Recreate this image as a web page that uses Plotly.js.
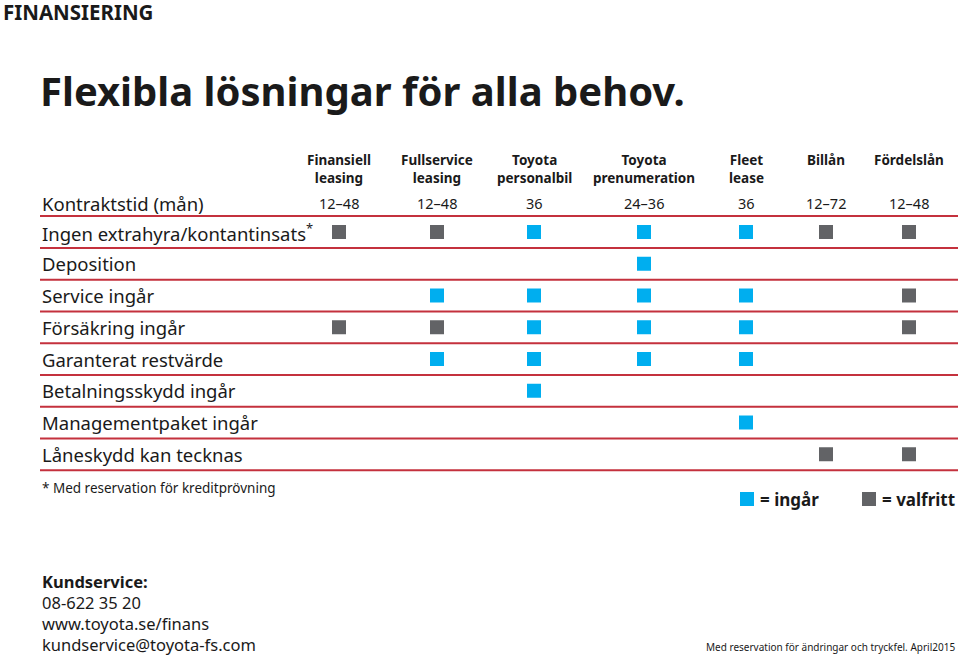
<!DOCTYPE html>
<html>
<head>
<meta charset="utf-8">
<script src="https://cdn.plot.ly/plotly-3.0.1.min.js"></script>
<style>
html,body{margin:0;padding:0;background:#fff;}
#chart{width:960px;height:656px;}
</style>
</head>
<body>
<div id="chart"></div>
<script>
// ---- data ----
const columns = ["Finansiell<br>leasing", "Fullservice<br>leasing", "Toyota<br>personalbil", "Toyota<br>prenumeration", "Fleet<br>lease", "Billån", "Fördelslån"];
const contractLabel = "Kontraktstid (mån)";
const contractValues = ["12–48", "12–48", "36", "24–36", "36", "12–72", "12–48"];
const features = [
  "Ingen extrahyra/kontantinsats<sup>*</sup>",
  "Deposition",
  "Service ingår",
  "Försäkring ingår",
  "Garanterat restvärde",
  "Betalningsskydd ingår",
  "Managementpaket ingår",
  "Låneskydd kan tecknas"
];
// i = ingår (included), v = valfritt (optional), "" = none
const matrix = [
  ["v", "v", "i", "i", "i", "v", "v"],
  ["",  "",  "",  "i", "",  "",  "" ],
  ["",  "i", "i", "i", "i", "",  "v"],
  ["v", "v", "i", "i", "i", "",  "v"],
  ["",  "i", "i", "i", "i", "",  "" ],
  ["",  "",  "i", "",  "",  "",  "" ],
  ["",  "",  "",  "",  "i", "",  "" ],
  ["",  "",  "",  "",  "",  "v", "v"]
];
const legendLabels = {i: "= ingår", v: "= valfritt"};
const contactLines = ["<b>Kundservice:</b>", "08-622 35 20", "www.toyota.se/finans", "kundservice@toyota-fs.com"];

// ---- layout helpers ----
const BLUE = "#00aeef", GRAY = "#626366", RED = "#c4313d", TXT = "#1a1a1a";
const colX = [339, 437, 534, 644, 746, 826, 909];
const contractY = 203;
const featY0 = 232, rowStep = 31.75;
const featY = i => featY0 + i * rowStep;
const FONT = "Noto Sans, Lato, sans-serif";

const traces = [];
["i", "v"].forEach(kind => {
  const xs = [], ys = [];
  matrix.forEach((row, r) => row.forEach((c, k) => {
    if (c === kind) { xs.push(colX[k]); ys.push(featY(r)); }
  }));
  traces.push({
    type: "scatter", mode: "markers", x: xs, y: ys, hoverinfo: "skip",
    marker: {symbol: "square", size: 14, color: kind === "i" ? BLUE : GRAY, line: {width: 0}},
    showlegend: false
  });
});
// legend squares
traces.push({
  type: "scatter", mode: "markers", x: [747, 869], y: [499, 499], hoverinfo: "skip",
  marker: {symbol: "square", size: 14, color: [BLUE, GRAY]}, showlegend: false
});

const ann = [];
const A = (text, x, y, size, opts) => ann.push(Object.assign({
  text, x, y, xref: "x", yref: "y", showarrow: false, xanchor: "left", yanchor: "middle",
  font: {family: FONT, size, color: TXT}
}, opts || {}));

A("<b>FINANSIERING</b>", 1, 12, 20.5);
A("<b>Flexibla lösningar för alla behov.</b>", 38, 90, 40);
columns.forEach((c, k) => A("<b>" + c + "</b>", colX[k], 149, 13.5, {xanchor: "center", yanchor: "top"}));
A(contractLabel, 40, contractY, 18.5);
contractValues.forEach((v, k) => A(v, colX[k], contractY, 14.5, {xanchor: "center"}));
features.forEach((f, i) => A(f, 40, featY(i), 18.5));
A("* Med reservation för kreditprövning", 40, 488, 13.5);
A("<b>" + legendLabels.i + "</b>", 758, 499, 17);
A("<b>" + legendLabels.v + "</b>", 880, 499, 17);
contactLines.forEach((t, i) => A(t, 40, 581 + i * 21, 16.5));
A("Med reservation för ändringar och tryckfel. April2015", 957, 647, 10, {xanchor: "right"});

const shapes = [];
const lineYs = [216].concat(features.map((f, i) => featY(i) + 16));
lineYs.forEach(y => shapes.push({
  type: "line", xref: "x", yref: "y", x0: 40, x1: 958, y0: y, y1: y,
  line: {color: RED, width: 2}
}));

const layout = {
  width: 960, height: 656,
  margin: {l: 0, r: 0, t: 0, b: 0},
  paper_bgcolor: "#fff", plot_bgcolor: "#fff",
  xaxis: {range: [0, 960], visible: false, fixedrange: true},
  yaxis: {range: [656, 0], visible: false, fixedrange: true},
  annotations: ann, shapes: shapes, showlegend: false
};
Plotly.newPlot("chart", traces, layout, {displayModeBar: false, staticPlot: true});
</script>
</body>
</html>
